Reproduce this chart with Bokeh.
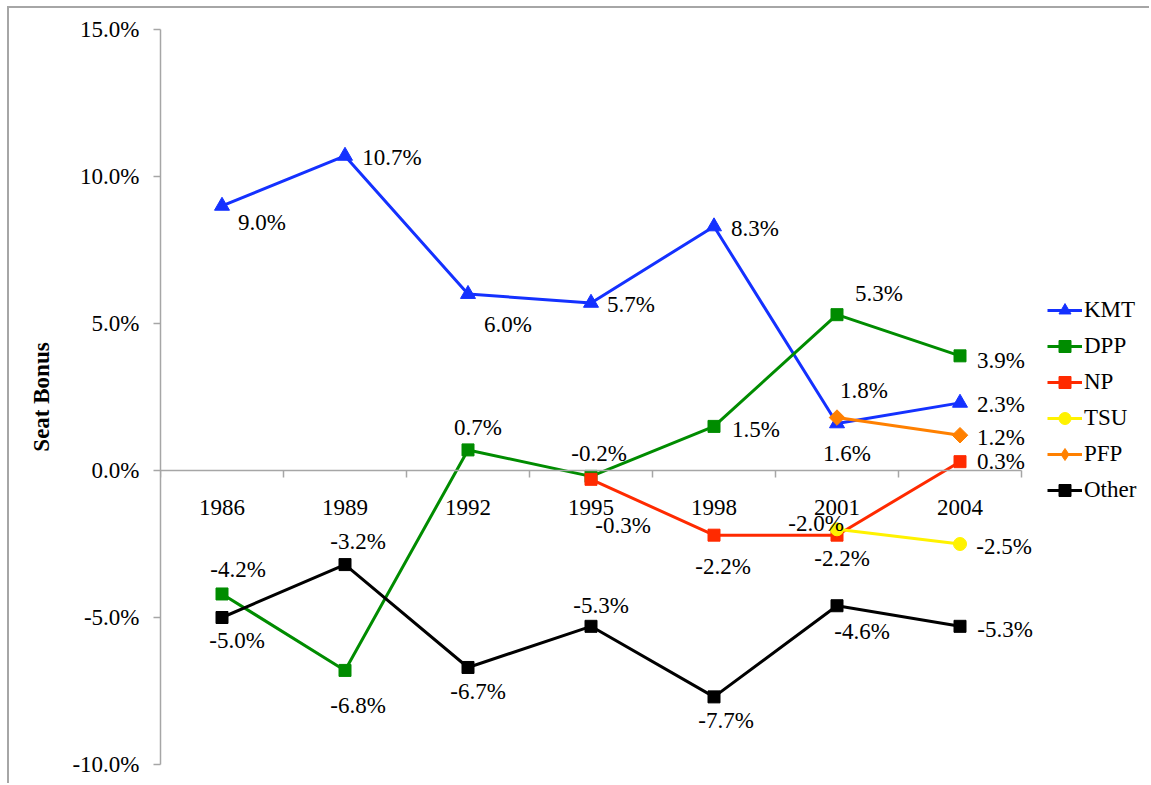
import math

from bokeh.plotting import figure
from bokeh.models import (LinearAxis, FixedTicker, PrintfTickFormatter, Range1d,
                          Legend, LegendItem, ColumnDataSource)
from bokeh.embed import file_html
from bokeh.resources import INLINE
from bokeh.core.properties import value

# Election years (category axis)
years = ["1986", "1989", "1992", "1995", "1998", "2001", "2004"]

# Seat bonus by party, in percent (None = party did not contest)
kmt = [9.0, 10.7, 6.0, 5.7, 8.3, 1.6, 2.3]
dpp = [-4.2, -6.8, 0.7, -0.2, 1.5, 5.3, 3.9]
np_party = [None, None, None, -0.3, -2.2, -2.2, 0.3]
tsu = [None, None, None, None, None, -2.0, -2.5]
pfp = [None, None, None, None, None, 1.8, 1.2]
other = [-5.0, -3.2, -6.7, -5.3, -7.7, -4.6, -5.3]

y_ticks = [-10, -5, 0, 5, 10, 15]

# Data-label nudges in screen pixels (dx right, dy down), one per plotted point
kmt_lbl = [(40, 17), (47, 2), (40, 30), (40, 2), (41, 2), (10, 30), (41, 2)]
dpp_lbl = [(16, -24), (13, 35), (10, -22), (8, -23), (42, 3), (42, -21), (41, 5)]
np_lbl = [(32, 46), (9, 31), (5, 23), (41, 0)]
tsu_lbl = [(-21, -6), (44, 2)]
pfp_lbl = [(27, -27), (41, 2)]
other_lbl = [(15, 23), (13, -23), (10, 24), (10, -21), (12, 24), (25, 26), (45, 3)]

FONT = "Liberation Serif"
FS = "23px"
AXIS_GREY = "#a6a6a6"
SLOT_PX = 123          # horizontal pixels per election slot
FRAME_W = 991          # plot frame width in pixels (extends past the last slot for the legend)

n = len(years)
p = figure(width=1142, height=777, output_backend="svg", toolbar_location=None,
           x_range=Range1d(-0.5, -0.5 + FRAME_W / SLOT_PX), y_range=Range1d(-10, 15),
           x_axis_location=None, min_border_left=151, min_border_right=0,
           min_border_top=21, min_border_bottom=21)
p.styles = {"margin-left": "7px", "margin-top": "6px",
            "border-top": f"2px solid {AXIS_GREY}", "border-left": f"2px solid {AXIS_GREY}"}
p.outline_line_color = None
p.xgrid.visible = False
p.ygrid.visible = False
p.background_fill_color = "white"
p.border_fill_color = "white"

# Y axis
ya = p.yaxis[0]
ya.ticker = FixedTicker(ticks=y_ticks)
ya.formatter = PrintfTickFormatter(format="%.1f%%")
ya.major_tick_in = 0
ya.major_tick_out = 7
ya.minor_tick_line_color = None
ya.axis_line_color = AXIS_GREY
ya.axis_line_width = 1.5
ya.major_tick_line_color = AXIS_GREY
ya.major_tick_line_width = 1.5
ya.major_label_standoff = 14
ya.major_label_text_font = FONT
ya.major_label_text_font_size = FS
ya.major_label_text_color = "black"
ya.axis_label = "Seat Bonus"
ya.axis_label_text_font = FONT
ya.axis_label_text_font_size = FS
ya.axis_label_text_font_style = "bold"
ya.axis_label_text_color = "black"
ya.axis_label_standoff = 15

# X axis crossing at zero: tick marks between categories, line only across the slots
bounds = (-0.5, n - 0.5)
x_line = LinearAxis(fixed_location=0, bounds=bounds,
                    ticker=FixedTicker(ticks=[i - 0.5 for i in range(n + 1)]),
                    major_label_overrides={i - 0.5: "" for i in range(n + 1)},
                    major_tick_in=0, major_tick_out=7,
                    minor_tick_line_color=None,
                    axis_line_color=AXIS_GREY, axis_line_width=1.5,
                    major_tick_line_color=AXIS_GREY, major_tick_line_width=1.5)
p.add_layout(x_line, "below")

# Category labels centred under each slot
x_lab = LinearAxis(fixed_location=0, bounds=bounds,
                   ticker=FixedTicker(ticks=list(range(n))),
                   major_label_overrides={i: y for i, y in enumerate(years)},
                   major_tick_in=0, major_tick_out=0,
                   minor_tick_line_color=None,
                   axis_line_color=None, major_tick_line_color=None,
                   major_label_standoff=29,
                   major_label_text_font=FONT, major_label_text_font_size=FS,
                   major_label_text_color="black")
p.add_layout(x_lab, "below")

# name, values, colour, marker, size, marker angle, label nudges
series = [
    ("KMT", kmt, "#1431ff", "triangle", 15, 0.0, kmt_lbl),
    ("DPP", dpp, "#008c00", "square", 12, 0.0, dpp_lbl),
    ("NP", np_party, "#ff2a00", "square", 12, 0.0, np_lbl),
    ("TSU", tsu, "#fff200", "circle", 13, 0.0, tsu_lbl),
    ("PFP", pfp, "#ff8000", "square", 11, math.pi / 4, pfp_lbl),
    ("Other", other, "#000000", "square", 12, 0.0, other_lbl),
]

items = []
for name, vals, color, marker, size, angle, lbl in series:
    xs = [i for i, v in enumerate(vals) if v is not None]
    ys = [v for v in vals if v is not None]
    src = ColumnDataSource(dict(
        x=xs, y=ys,
        txt=[f"{v:.1f}%" for v in ys],
        dx=[d[0] for d in lbl], dy=[d[1] for d in lbl],
    ))
    ln = p.line("x", "y", source=src, line_color=color, line_width=3)
    key_marks = [ln]
    if angle:
        # legend keys are never rotated, so a diamond sits under the turned square
        key_marks.append(p.scatter("x", "y", source=src, marker="diamond", size=size,
                                   fill_color=color, line_color=color))
    mk = p.scatter("x", "y", source=src, marker=marker, size=size, angle=angle,
                   fill_color=color, line_color=color)
    if not angle:
        key_marks.append(mk)
    p.text("x", "y", text="txt", source=src, x_offset="dx", y_offset="dy",
           text_align="center", text_baseline="middle",
           text_font=value(FONT), text_font_size=value(FS), text_color="black")
    items.append(LegendItem(label=name, renderers=key_marks))

legend = Legend(items=items, location=(887, 256),
                glyph_width=35, glyph_height=30, label_height=36,
                label_standoff=2, spacing=0, padding=0, margin=0,
                label_text_font=FONT, label_text_font_size=FS,
                label_text_color="black",
                border_line_color=None, background_fill_alpha=0)
p.add_layout(legend, "center")

open("out.html", "w").write(file_html(p, INLINE))
